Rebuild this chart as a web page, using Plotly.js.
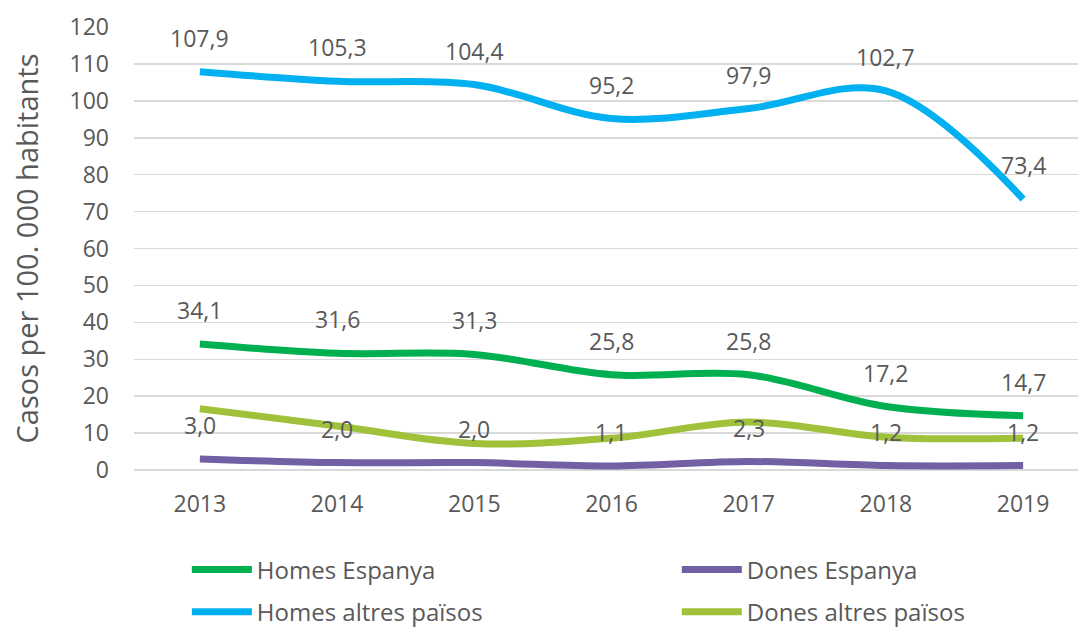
<!DOCTYPE html>
<html>
<head>
<meta charset="utf-8">
<script src="https://cdn.plot.ly/plotly-3.0.1.min.js"></script>
<style>html,body{margin:0;padding:0;background:#fff;}#chart{width:1078px;height:630px;}</style>
</head>
<body>
<div id="chart"></div>
<script>
const years = ['2013','2014','2015','2016','2017','2018','2019'];
const homesEspanya = [34.1, 31.6, 31.3, 25.8, 25.8, 17.2, 14.7];
const donesEspanya = [3.0, 2.0, 2.0, 1.1, 2.3, 1.2, 1.2];
const homesAltres = [107.9, 105.3, 104.4, 95.2, 97.9, 102.7, 73.4];
const donesAltres = [16.6, 11.9, 7.2, 8.6, 13.0, 8.9, 8.6];

const names = ['Homes Espanya', 'Dones Espanya', 'Homes altres països', 'Dones altres països'];
const series = [homesEspanya, donesEspanya, homesAltres, donesAltres];
const colors = ['#00B050', '#7160A3', '#00B0F0', '#A0C13A'];
const labelled = [true, true, true, false];
const legendIds = ['legend', 'legend2', 'legend3', 'legend4'];

const fmt = v => v.toFixed(1).replace('.', ',');

const traces = series.map((s, i) => ({
  x: years, y: s, name: names[i], type: 'scatter', mode: 'lines',
  line: {color: colors[i], width: 7, shape: 'spline', smoothing: 1},
  legend: legendIds[i],
  hoverinfo: 'skip'
}));

const annotations = [];
series.forEach((s, i) => {
  if (!labelled[i]) return;
  s.forEach((v, j) => {
    annotations.push({
      x: j, y: v, xref: 'x', yref: 'y', text: fmt(v), showarrow: false,
      yshift: 34, font: {family: 'Open Sans', size: 23, color: '#595959'}
    });
  });
});

const legendBase = {
  orientation: 'v', xanchor: 'left', yanchor: 'middle', itemwidth: 60,
  font: {family: 'Open Sans', size: 24, color: '#595959'}, bgcolor: 'rgba(0,0,0,0)'
};
const legendPos = [[0.056, -0.2257], [0.575, -0.2257], [0.056, -0.3206], [0.575, -0.3206]];

const layout = {
  width: 1078, height: 630,
  margin: {l: 134, r: 0, t: 27, b: 160, autoexpand: false},
  paper_bgcolor: '#fff', plot_bgcolor: '#fff',
  font: {family: 'Open Sans', color: '#595959'},
  xaxis: {
    type: 'category', range: [-0.48, 6.4], showgrid: false, zeroline: false,
    showline: false, ticks: '', tickfont: {size: 23, color: '#595959'},
    ticklabelstandoff: 18
  },
  yaxis: {
    range: [0, 120], dtick: 10, tick0: 0, showgrid: true, gridcolor: '#d9d9d9', gridwidth: 1.5,
    zeroline: true, zerolinecolor: '#d9d9d9', zerolinewidth: 1.5, showline: false,
    ticks: '', tickfont: {size: 23, color: '#595959'}, ticklabelstandoff: 24,
    title: {text: 'Casos per 100. 000 habitants', font: {size: 29, color: '#595959'}, standoff: 22}
  },
  showlegend: true,
  annotations: annotations
};
legendIds.forEach((id, i) => {
  layout[id] = Object.assign({}, legendBase, {x: legendPos[i][0], y: legendPos[i][1]});
});

Plotly.newPlot('chart', traces, layout, {displayModeBar: false, staticPlot: true});
</script>
</body>
</html>
